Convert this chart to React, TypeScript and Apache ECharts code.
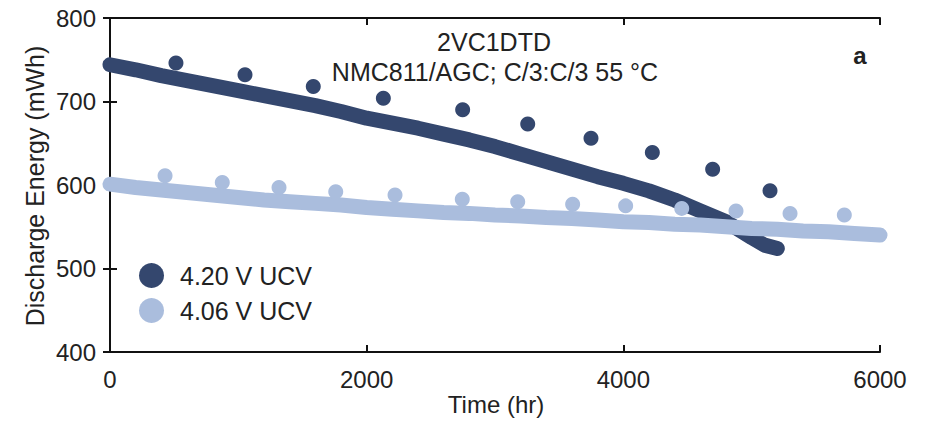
import React, { useEffect, useRef } from "react";
import * as echarts from "echarts";

// Dense cycling data (time hr, discharge energy mWh)
const hiTime = [0, 200, 400, 600, 800, 1000, 1200, 1400, 1600, 1800, 2000, 2200, 2400, 2600, 2800, 3000, 3200, 3400, 3600, 3800, 4000, 4200, 4400, 4600, 4800, 5000, 5100, 5200];
const hiEnergy = [744, 738, 731, 725, 719, 713, 707, 701, 695, 688, 680, 674, 668, 661, 654, 646, 637, 628, 619, 610, 602, 593, 582, 569, 556, 537, 528, 524];

const loTime = [0, 200, 400, 600, 800, 1000, 1200, 1400, 1600, 1800, 2000, 2200, 2400, 2600, 2800, 3000, 3200, 3400, 3600, 3800, 4000, 4200, 4400, 4600, 4800, 5000, 5200, 5400, 5600, 5800, 6000];
const loEnergy = [601, 597, 594, 591, 588, 585, 582, 580, 578, 576, 573, 571, 569, 567, 566, 564, 563, 561, 560, 558, 556, 555, 553, 552, 550, 548, 547, 545, 544, 542, 540];

// Sparse reference performance points
const hiRptTime = [514, 1052, 1584, 2130, 2748, 3255, 3748, 4226, 4696, 5143];
const hiRptEnergy = [746, 732, 718, 704, 690, 673, 656, 639, 619, 593];

const loRptTime = [429, 875, 1317, 1759, 2221, 2745, 3177, 3605, 4018, 4455, 4878, 5299, 5722];
const loRptEnergy = [611, 603, 597, 592, 588, 583, 580, 577, 575, 572, 569, 566, 564];

const xTicks = { min: 0, max: 6000, interval: 2000 };
const yTicks = { min: 400, max: 800, interval: 100 };

const seriesNames = ["4.20 V UCV", "4.06 V UCV"];
const titleLines = ["2VC1DTD", "NMC811/AGC; C/3:C/3 55 °C"];
const panelLabel = "a";
const xTitle = "Time (hr)";
const yTitle = "Discharge Energy (mWh)";

const DARK = "#34476e";
const LIGHT = "#aabddd";
const TEXT = "#222";
const FONT = "'Liberation Sans', Arial, sans-serif";

const zip = (a: number[], b: number[]) => a.map((v, i) => [v, b[i]]);

export default function App() {
  const ref = useRef<HTMLDivElement>(null);
  useEffect(() => {
    if (!ref.current) return;
    const chart = echarts.init(ref.current, undefined, { renderer: "svg" });
    const axisLine = { show: true, lineStyle: { color: "#111", width: 2 } };
    const axisTick = { show: true, inside: true, length: 7, lineStyle: { color: "#111", width: 2 } };
    const txt = (text: string, x: number, y: number, size: number, extra: any = {}) => ({
      type: "text", x, y, ...extra,
      style: { text, fontSize: size, fill: TEXT, align: "center", verticalAlign: "middle", fontFamily: FONT, ...(extra.style || {}) },
    });
    chart.setOption({
      animation: false,
      backgroundColor: "#fff",
      textStyle: { fontFamily: FONT },
      grid: { left: 110, top: 18, width: 770, height: 334 },
      xAxis: [
        {
          type: "value", position: "bottom", ...xTicks,
          axisLine, axisTick, splitLine: { show: false },
          axisLabel: { fontSize: 24, color: TEXT, margin: 15, fontFamily: FONT, formatter: (v: number) => String(v) },
        },
        {
          type: "value", position: "top", ...xTicks,
          axisLine, axisTick, splitLine: { show: false }, axisLabel: { show: false },
        },
      ],
      yAxis: [
        {
          type: "value", position: "left", ...yTicks,
          axisLine, axisTick, splitLine: { show: false },
          axisLabel: { fontSize: 24, color: TEXT, margin: 14, fontFamily: FONT },
        },
        {
          type: "value", position: "right", ...yTicks,
          axisLine, axisTick, splitLine: { show: false }, axisLabel: { show: false },
        },
      ],
      legend: {
        orient: "vertical", left: 139, top: 263, padding: 0, itemWidth: 25, itemHeight: 25, itemGap: 10,
        icon: "circle",
        data: seriesNames,
        textStyle: { fontSize: 25, color: TEXT, fontFamily: FONT, padding: [0, 0, 0, 11] },
        selectedMode: false,
      },
      series: [
        {
          name: seriesNames[1], type: "line", data: zip(loTime, loEnergy), showSymbol: false,
          lineStyle: { color: LIGHT, width: 15, cap: "round", join: "round" }, itemStyle: { color: LIGHT }, z: 2,
        },
        {
          name: seriesNames[1], type: "scatter", data: zip(loRptTime, loRptEnergy), symbolSize: 15,
          itemStyle: { color: LIGHT, opacity: 1 }, z: 2,
        },
        {
          name: seriesNames[0], type: "line", data: zip(hiTime, hiEnergy), showSymbol: false,
          lineStyle: { color: DARK, width: 15, cap: "round", join: "round" }, itemStyle: { color: DARK }, z: 1,
        },
        {
          name: seriesNames[0], type: "scatter", data: zip(hiRptTime, hiRptEnergy), symbolSize: 15,
          itemStyle: { color: DARK, opacity: 1 }, z: 3,
        },
      ],
      graphic: [
        txt(titleLines[0], 494, 42, 25),
        txt(titleLines[1], 495, 72, 25),
        txt(panelLabel, 860, 55, 24, { style: { fontWeight: "bold" } }),
        txt(xTitle, 496, 404, 24),
        txt(yTitle, 35, 186, 25, { rotation: Math.PI / 2 }),
      ],
    });
    return () => chart.dispose();
  }, []);
  return <div ref={ref} style={{ position: "fixed", left: 0, top: 0, width: 931, height: 422 }} />;
}
